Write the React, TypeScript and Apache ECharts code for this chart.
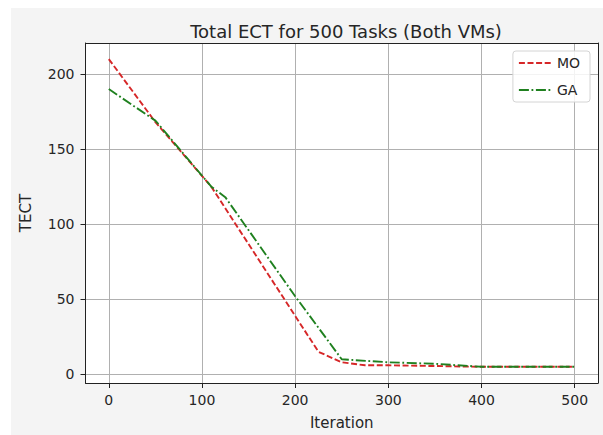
import React, { useEffect, useRef } from "react";
import * as echarts from "echarts";

const title = "Total ECT for 500 Tasks (Both VMs)";
const xName = "Iteration";
const yName = "TECT";
const xTicks = [0, 100, 200, 300, 400, 500];
const yTicks = [0, 50, 100, 150, 200];
const moIter = [0, 50, 110, 225, 250, 275, 300, 400, 500];
const moVals = [210, 168, 125, 15, 8, 6, 6, 5, 5];
const gaIter = [0, 50, 110, 125, 200, 250, 300, 350, 400, 500];
const gaVals = [190, 169, 125, 118, 52, 10, 8, 7, 5, 5];

const FONT = "DejaVu Sans";

export default function App() {
  const ref = useRef<HTMLDivElement>(null);
  useEffect(() => {
    if (!ref.current) return;
    const chart = echarts.init(ref.current, undefined, { renderer: "svg" });
    const pair = (xs: number[], ys: number[]) => xs.map((x, i) => [x, ys[i]]);
    const axisLine = { show: true, onZero: false, lineStyle: { color: "#222", width: 1 } };
    chart.setOption({
      animation: false,
      backgroundColor: "transparent",
      title: {
        text: title,
        left: 341,
        textAlign: "center",
        top: 17,
        textStyle: { fontFamily: FONT, fontSize: 18, fontWeight: "normal", color: "#262626" },
      },
      grid: { left: 85.5, right: 5, top: 43, bottom: 52, containLabel: false },
      legend: {
        right: 13,
        top: 51,
        orient: "vertical",
        backgroundColor: "rgba(255,255,255,0.85)",
        borderColor: "#d4d4d4",
        borderWidth: 1,
        borderRadius: 3,
        padding: [5, 10, 5, 5],
        itemWidth: 33,
        itemHeight: 14,
        itemGap: 13,
        itemStyle: { opacity: 0 },
        textStyle: { fontFamily: FONT, fontSize: 14, color: "#262626" },
        data: ["MO", "GA"],
      },
      xAxis: [
        {
          type: "value",
          min: -25,
          max: 525,
          name: xName,
          nameLocation: "middle",
          nameGap: 32,
          nameTextStyle: { fontFamily: FONT, fontSize: 15, color: "#262626" },
          axisLine,
          axisTick: { show: true, length: 5, inside: false, customValues: xTicks, lineStyle: { color: "#222" } },
          axisLabel: { customValues: xTicks, margin: 10, fontFamily: FONT, fontSize: 14, color: "#262626" },
          splitLine: { show: true, lineStyle: { color: "#b0b0b0", width: 1 } },
        },
        {
          type: "value",
          position: "top",
          min: -25,
          max: 525,
          axisLine,
          axisTick: { show: false },
          axisLabel: { show: false },
          splitLine: { show: false },
        },
      ],
      yAxis: [
        {
          type: "value",
          min: -5.8,
          max: 220.7,
          name: yName,
          nameLocation: "middle",
          nameGap: 52,
          nameTextStyle: { fontFamily: FONT, fontSize: 15, color: "#262626" },
          axisLine,
          axisTick: { show: true, length: 5, customValues: yTicks, lineStyle: { color: "#222" } },
          axisLabel: { customValues: yTicks, margin: 11, fontFamily: FONT, fontSize: 14, color: "#262626" },
          splitLine: { show: true, lineStyle: { color: "#b0b0b0", width: 1 } },
        },
        {
          type: "value",
          position: "right",
          min: -5.8,
          max: 220.7,
          axisLine,
          axisTick: { show: false },
          axisLabel: { show: false },
          splitLine: { show: false },
        },
      ],
      series: [
        {
          name: "MO",
          type: "line",
          data: pair(moIter, moVals),
          symbol: "none",
          lineStyle: { color: "#d62728", width: 1.9, type: [6, 2.6] },
          itemStyle: { color: "#d62728" },
          z: 3,
        },
        {
          name: "GA",
          type: "line",
          data: pair(gaIter, gaVals),
          symbol: "none",
          lineStyle: { color: "#1f801f", width: 1.9, type: [10, 2.6, 1.8, 2.6] },
          itemStyle: { color: "#1f801f" },
          z: 4,
        },
      ],
    });
    return () => chart.dispose();
  }, []);
  return (
    <div style={{ position: "fixed", left: 0, top: 0, width: 603, height: 435, background: "#ffffff" }}>
      <div style={{ position: "absolute", left: 11, top: 8, right: 0, bottom: 0, background: "#f4f4f4" }} />
      <div style={{ position: "absolute", left: 85.5, top: 43, width: 512.5, height: 340, background: "#ffffff" }} />
      <div ref={ref} style={{ position: "absolute", left: 0, top: 0, width: 603, height: 435 }} />
    </div>
  );
}
